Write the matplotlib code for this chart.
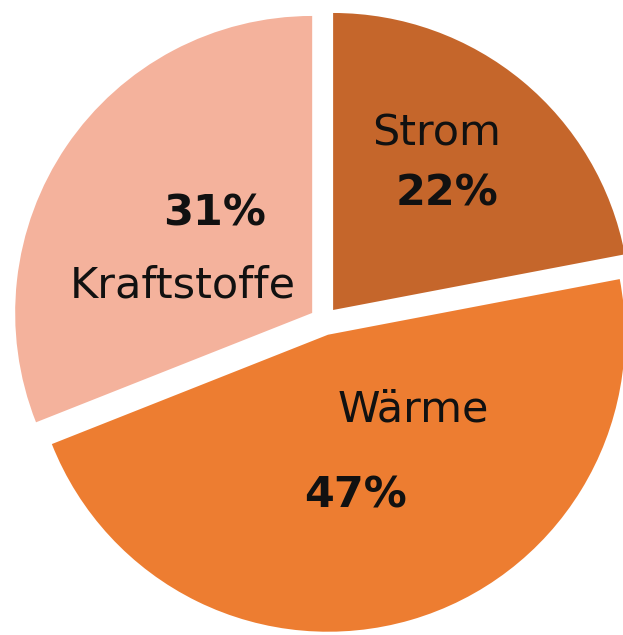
"""Pie chart: Anteile Endenergie nach Sektor (Strom, Wärme, Kraftstoffe)."""
import matplotlib
matplotlib.use("Agg")
import matplotlib.pyplot as plt

# Data
labels = ["Strom", "Wärme", "Kraftstoffe"]
shares = [22, 47, 31]
colors = ["#C5662B", "#ED7D31", "#F4B29C"]

# Label positions in pixels (x from left, y from top)
name_pos = [(437, 133), (413, 410), (183, 285)]
pct_pos = [(447, 194), (355, 495), (215, 213)]

W, H = 623, 635


def main() -> None:
    fig = plt.figure(figsize=(W / 100, H / 100), dpi=100)
    ax = fig.add_axes([0, 0, 1, 1])

    radius = 297
    # explode is in data units (pixels here)
    ax.pie(
        shares,
        colors=colors,
        startangle=90,
        counterclock=False,
        explode=[14.3] * len(shares),
        radius=radius,
        center=(324, H - 321),
        wedgeprops={"linewidth": 0},
        frame=True,
    )
    ax.set_xlim(0, W)
    ax.set_ylim(0, H)
    ax.set_aspect("equal")
    ax.axis("off")

    for name, pct, (nx, ny), (px, py) in zip(labels, shares, name_pos, pct_pos):
        ax.text(nx, H - ny, name, ha="center", va="center",
                fontsize=31, color="#111111")
        ax.text(px, H - py, f"{pct}%", ha="center", va="center",
                fontsize=31, fontweight="bold", color="#111111")

    fig.savefig("out.png", dpi=100, facecolor="white")
    plt.close(fig)


if __name__ == "__main__":
    main()
